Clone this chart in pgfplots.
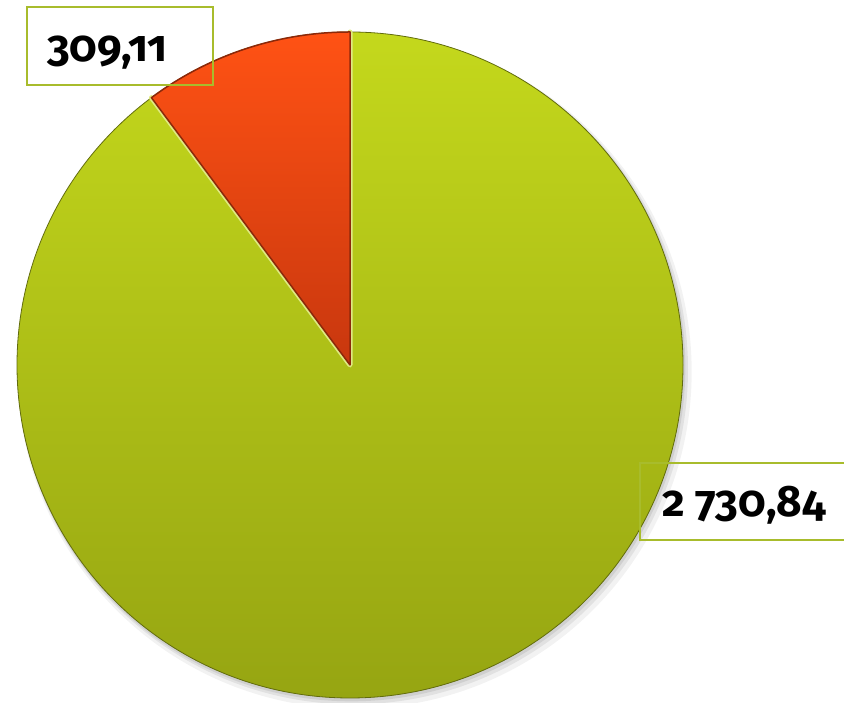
\documentclass[border=0pt]{standalone}
\usepackage{pgfplots}
\pgfplotsset{compat=1.18}
\usepackage{pgfplotstable}
\usepackage{fontspec}
\setmainfont{Fira Sans}[Numbers=OldStyle]
\definecolor{gtop}{RGB}{196,216,28}
\definecolor{gbot}{RGB}{150,165,18}
\definecolor{rtop}{RGB}{255,82,20}
\definecolor{rbot}{RGB}{200,55,14}
\definecolor{rdark}{RGB}{140,40,10}
\definecolor{boxc}{RGB}{168,188,44}
\pgfplotstableread{
name value
B 309.11
A 2730.84
}\piedata
\begin{document}
\begin{tikzpicture}[x=1pt,y=1pt]
\pgfplotstablegetelem{0}{value}\of\piedata \let\vR\pgfplotsretval
\pgfplotstablegetelem{1}{value}\of\piedata \let\vG\pgfplotsretval
\pgfmathsetmacro\aR{90+360*(\vR/(\vR+\vG))}
\pgfmathsetmacro\aRm{\aR-360}
\begin{axis}[at={(350pt,338pt)},anchor=center,hide axis,scale only axis,
  width=666pt,height=666pt,xmin=-1,xmax=1,ymin=-1,ymax=1,clip=false]
\addplot[draw=none] coordinates {(0,0)};
% shadow
\fill[black,opacity=0.05] (axis cs:0.014,-0.02) circle[radius=337pt];
\fill[black,opacity=0.07] (axis cs:0.009,-0.013) circle[radius=335pt];
\fill[black,opacity=0.08] (axis cs:0.004,-0.007) circle[radius=334pt];
% green slice
\shade[top color=gtop,bottom color=gbot] (axis cs:0,0) -- (axis cs:0,1)
  arc[start angle=90,end angle=\aRm,radius=333pt] -- cycle;
\draw[gbot!65!black,line width=0.8pt] (axis cs:0,0) circle[radius=333pt];
\draw[gtop!55!white,line width=5pt,line cap=round,line join=round] (axis cs:0,1) -- (axis cs:0,0) -- ++(\aR:333pt);
% red slice
\shade[top color=rtop,bottom color=rbot] (axis cs:0,0) -- (axis cs:0,1)
  arc[start angle=90,end angle=\aR,radius=333pt] -- cycle;
\draw[rdark,line width=1.5pt,line join=round] (axis cs:0,0) -- (axis cs:0,1)
  arc[start angle=90,end angle=\aR,radius=333pt] -- cycle;
\end{axis}
\draw[boxc,line width=1.8pt] (27,618) rectangle (213,696);
\node[anchor=base west,inner sep=0,font=\fontsize{44}{44}\selectfont\bfseries] at (47,641) {309,11};
\draw[boxc,line width=1.8pt] (640,163) rectangle (852,240);
\node[anchor=base west,inner sep=0,font=\fontsize{44}{44}\selectfont\bfseries] at (662,186) {2 730,84};
\pgfresetboundingbox
\useasboundingbox (0,0) rectangle (844,703);
\end{tikzpicture}
\end{document}
